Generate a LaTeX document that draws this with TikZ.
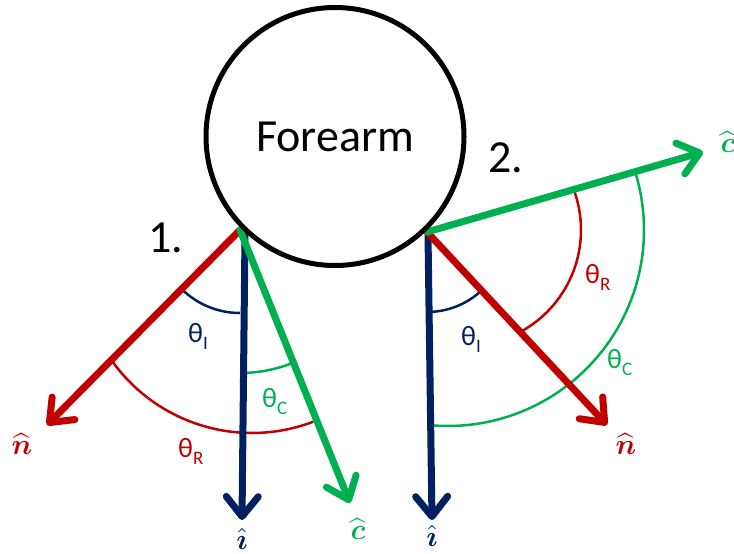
\documentclass[tikz,border=0pt]{standalone}
\usepackage{amsmath}
\usepackage{graphicx}
\usepackage{fontspec}
\setmainfont{Carlito}
\usetikzlibrary{arrows.meta}
\definecolor{myred}{HTML}{C00000}
\definecolor{myblue}{HTML}{002060}
\definecolor{mygreen}{HTML}{00B050}
\newcommand{\thlab}[1]{\fontsize{28}{30}\selectfont θ\raisebox{-7.5pt}{\fontsize{19}{20}\selectfont #1}}
\newcommand{\veclab}[1]{\scalebox{2.9}{$#1$}}
\tikzset{
  vecline/.style={line width=7pt, line cap=round, -{Straight Barb[length=20pt,width=32pt,round]}},
  arcline/.style={line width=2.5pt},
  thetalab/.style={anchor=base west, inner sep=0pt},
  hatlab/.style={inner sep=0pt},
  biglab/.style={anchor=base west, inner sep=0pt, font=\fontsize{46}{50}\selectfont},
}
\begin{document}
\begin{tikzpicture}[x=1pt,y=-1pt]
\useasboundingbox (0,0) rectangle (734,554);
% apex points
\coordinate (p1) at (240,230);
\coordinate (p1b) at (245,235);
\coordinate (p2) at (427,232);
\coordinate (p2b) at (428,235);
% tips
\coordinate (n1) at (47,425);
\coordinate (i1) at (242,520);
\coordinate (c1) at (350,503);
\coordinate (n2) at (607,425);
\coordinate (i2) at (432,520);
\coordinate (c2) at (703,152);
% angle arcs, case 1
\draw[arcline, myblue] plot[domain=90:134.7, samples=30] ({240+83*cos(\x)},{230+83*sin(\x)});
\draw[arcline, mygreen] plot[domain=68.1:90, samples=30] ({240+143*cos(\x)},{230+143*sin(\x)});
\draw[arcline, myred] plot[domain=69.1:143.8, samples=50] ({252+172*cos(\x)},{261+172*sin(\x)});
% angle arcs, case 2
\draw[arcline, myblue] plot[domain=47:89, samples=30] ({427+80*cos(\x)},{232+80*sin(\x)});
\draw[arcline, myred] plot[domain=-20.5:61.6, samples=50] ({465+116*cos(\x)},{230+116*sin(\x)});
\draw[arcline, mygreen] plot[domain=-17.4:95.2, samples=60] ({448+196*cos(\x)},{230+196*sin(\x)});
% vectors
\draw[vecline, myblue] (p1b) -- (i1);
\draw[vecline, myred] (p1) -- (n1);
\draw[vecline, mygreen] (p1) -- (c1);
\draw[vecline, myblue] (p2b) -- (i2);
\draw[vecline, myred] (p2) -- (n2);
\draw[vecline, mygreen] (p2) -- (c2);
% forearm
\node[circle, draw, line width=5pt, minimum size=258pt, inner sep=0pt, font=\fontsize{46}{50}\selectfont] (arm) at (335,136.5) {Forearm};
% labels
\node[biglab] (one) at (148,252) {1.};
\node[biglab] (two) at (488,172) {2.};
\node[thetalab, myblue] (ti1) at (188,342) {\thlab{I}};
\node[thetalab, mygreen] (tc1) at (262,407) {\thlab{C}};
\node[thetalab, myred] (tr1) at (178,457) {\thlab{R}};
\node[thetalab, myred] (tr2) at (585,283) {\thlab{R}};
\node[thetalab, myblue] (ti2) at (461,345) {\thlab{I}};
\node[thetalab, mygreen] (tc2) at (607,368) {\thlab{C}};
\node[hatlab, myred] (ln1) at (22,444) {\veclab{\widehat{\boldsymbol{n}}}};
\node[hatlab, myblue] (li1) at (242,539) {\veclab{\hat{\boldsymbol{\imath}}}};
\node[hatlab, mygreen] (lc1) at (358,529) {\veclab{\widehat{\boldsymbol{c}}}};
\node[hatlab, myred] (ln2) at (626,444) {\veclab{\widehat{\boldsymbol{n}}}};
\node[hatlab, myblue] (li2) at (432,536) {\veclab{\hat{\boldsymbol{\imath}}}};
\node[hatlab, mygreen] (lc2) at (728,142) {\veclab{\widehat{\boldsymbol{c}}}};
\end{tikzpicture}
\end{document}
